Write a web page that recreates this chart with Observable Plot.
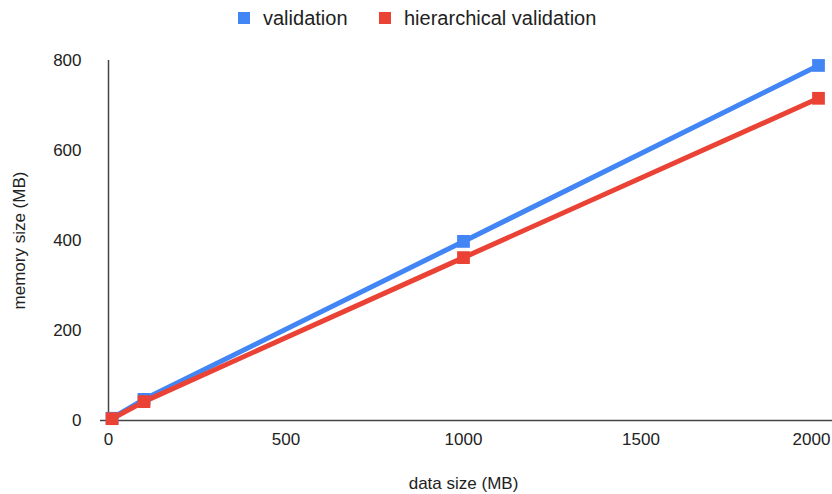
<!DOCTYPE html>
<html>
<head>
<meta charset="utf-8">
<script src="https://cdn.jsdelivr.net/npm/d3@7"></script>
<script src="https://cdn.jsdelivr.net/npm/@observablehq/plot@0.6"></script>
<style>
  html, body { margin: 0; padding: 0; background: #fff; }
  body { width: 832px; height: 494px; overflow: hidden; font-family: "Liberation Sans", Arial, sans-serif; }
  #legend { position: relative; height: 36px; width: 832px; }
  .sw { position: absolute; top: 12px; width: 12px; height: 12px; }
  .lt { position: absolute; top: 6px; font-size: 20px; line-height: 24px; color: #222; white-space: nowrap; }
  svg { display: block; }
</style>
</head>
<body>
<div id="legend"></div>
<div id="chart"></div>
<script>
const dataSizes = [10, 100, 1000, 2000];
const validation = [5, 47, 398, 789];
const hierarchical = [4, 42, 362, 716];
const seriesNames = ["validation", "hierarchical validation"];
const seriesColors = ["#4285F4", "#EA4335"];
const xTicks = [0, 500, 1000, 1500];
const xLastTick = [2000];
const yTicks = [0, 200, 400, 600, 800];

const rows = [];
[validation, hierarchical].forEach((vals, si) => {
  vals.forEach((v, i) => rows.push({series: seriesNames[si], x: dataSizes[i], y: v}));
});

// legend
const legend = document.getElementById("legend");
const legendPos = [{sw: 238, tx: 263}, {sw: 379, tx: 404}];
seriesNames.forEach((name, i) => {
  const s = document.createElement("div");
  s.className = "sw"; s.style.left = legendPos[i].sw + "px"; s.style.background = seriesColors[i];
  legend.appendChild(s);
  const t = document.createElement("div");
  t.className = "lt"; t.style.left = legendPos[i].tx + "px"; t.textContent = name;
  legend.appendChild(t);
});

const fmt = d3.format("d");
const chart = Plot.plot({
  width: 832,
  height: 458,
  marginTop: 24,
  marginBottom: 74,
  marginLeft: 108,
  marginRight: 14,
  style: {fontFamily: "'Liberation Sans', Arial, sans-serif", fontSize: "17px", color: "#222"},
  x: {domain: [0, 2000]},
  y: {domain: [0, 800]},
  color: {domain: seriesNames, range: seriesColors},
  marks: [
    Plot.axisX({ticks: xTicks, tickFormat: fmt, tickSize: 0, tickPadding: 12, label: "data size (MB)", labelAnchor: "center", labelArrow: "none", labelOffset: 68, fontSize: 17}),
    Plot.axisX({ticks: xLastTick, tickFormat: fmt, tickSize: 0, tickPadding: 12, label: null, dx: -7, fontSize: 17}),
    Plot.axisY({ticks: yTicks, tickFormat: fmt, tickSize: 0, tickPadding: 27, label: "memory size (MB)", labelAnchor: "center", labelArrow: "none", labelOffset: 96, fontSize: 17}),
    Plot.ruleX([0], {y1: 0, y2: 800, stroke: "#444", strokeWidth: 1.5}),
    Plot.ruleY([0], {stroke: "#444", strokeWidth: 1.5, insetLeft: -8, insetRight: -14}),
    Plot.line(rows, {x: "x", y: "y", z: "series", stroke: "series", strokeWidth: 5}),
    Plot.dot(rows, {x: "x", y: "y", fill: "series", symbol: "square", r: 7.2, stroke: "none"})
  ]
});
document.getElementById("chart").appendChild(chart);
</script>
</body>
</html>
